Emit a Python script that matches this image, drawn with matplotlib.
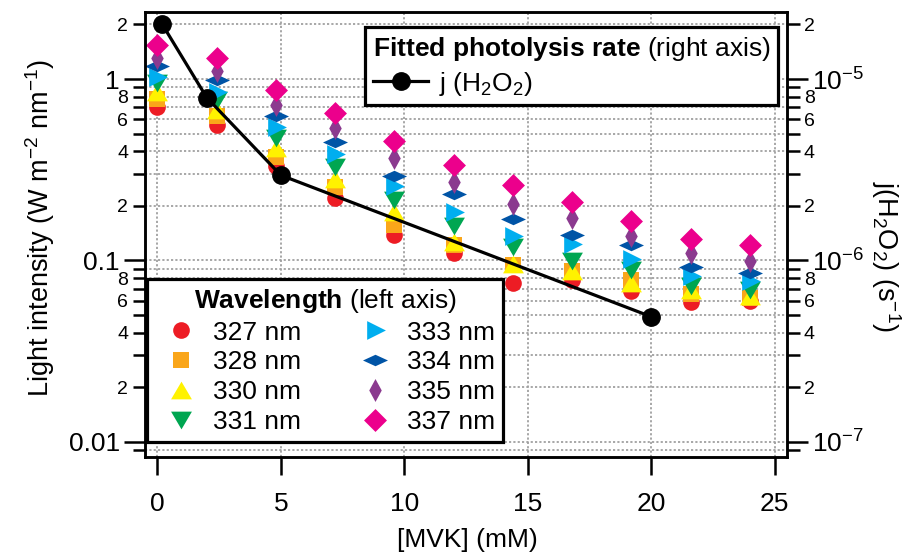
import numpy as np
import matplotlib
matplotlib.use('Agg')
import matplotlib.pyplot as plt
from matplotlib.ticker import LogLocator, FuncFormatter

plt.rcParams['font.family'] = 'Liberation Sans'
plt.rcParams['mathtext.fontset'] = 'custom'
plt.rcParams['mathtext.rm'] = 'Liberation Sans'
plt.rcParams['mathtext.bf'] = 'Liberation Sans:bold'
plt.rcParams['mathtext.it'] = 'Liberation Sans:italic'

# datos
mvk = [0, 2.4, 4.8, 7.2, 9.6, 12, 14.4, 16.8, 19.2, 21.6, 24]
wl_labels = ['327 nm', '328 nm', '330 nm', '331 nm', '333 nm', '334 nm', '335 nm', '337 nm']
int_327 = [0.70, 0.558, 0.333, 0.222, 0.138, 0.110, 0.075, 0.078, 0.068, 0.059, 0.060]
int_328 = [0.773, 0.625, 0.373, 0.255, 0.157, 0.122, 0.095, 0.087, 0.078, 0.065, 0.062]
int_330 = [0.85, 0.675, 0.418, 0.281, 0.184, 0.126, 0.096, 0.087, 0.0755, 0.069, 0.064]
int_331 = [0.947, 0.766, 0.471, 0.329, 0.216, 0.154, 0.119, 0.0987, 0.0887, 0.0725, 0.0687]
int_333 = [1.03, 0.85, 0.546, 0.385, 0.258, 0.184, 0.137, 0.124, 0.102, 0.0822, 0.0775]
int_334 = [1.18, 0.99, 0.628, 0.452, 0.293, 0.232, 0.169, 0.138, 0.121, 0.0925, 0.085]
int_335 = [1.30, 1.10, 0.719, 0.539, 0.366, 0.272, 0.204, 0.171, 0.137, 0.110, 0.0987]
int_337 = [1.54, 1.30, 0.87, 0.647, 0.456, 0.336, 0.26, 0.211, 0.164, 0.131, 0.122]

j_mvk = [0.2, 2, 5, 20]
j_h2o2 = [2.0e-5, 7.9e-6, 2.95e-6, 4.9e-7]

series = [int_327, int_328, int_330, int_331, int_333, int_334, int_335, int_337]
colors = ['#ED1C24', '#FAA61A', '#FFF200', '#00A651', '#00AEEF', '#0054A6', '#8B3A8F', '#EC008C']

# marcadores (vertices en px aprox.)
m_up = [(-10, -8.5), (10, -8.5), (0, 8.5)]
m_down = [(-10, 8.5), (10, 8.5), (0, -8.5)]
m_right = [(-8, -9), (-8, 9), (10, 0)]
m_flat = [(-12, 0), (0, 5.5), (12, 0), (0, -5.5)]
m_thin = [(0, 11), (6, 0), (0, -11), (-6, 0)]
m_diam = [(0, 11), (11, 0), (0, -11), (-11, 0)]
markers = ['o', 's', m_up, m_down, m_right, m_flat, m_thin, m_diam]
msizes = [12, 11.2, 15, 15, 15, 18, 16.5, 16.5]

fig = plt.figure(figsize=(9.12, 5.52), dpi=100)
ax = fig.add_axes([145 / 912, 1 - 457 / 552, 642 / 912, 445 / 552])
ax2 = ax.twinx()

handles = []
for vals, c, m, ms, lab in zip(series, colors, markers, msizes, wl_labels):
    h, = ax.plot(mvk, vals, linestyle='none', marker=m, ms=ms, color=c,
                 markeredgewidth=0, label=lab)
    handles.append(h)

jl, = ax2.plot(j_mvk, j_h2o2, color='black', lw=2.3, marker='o', ms=12.5,
               label=r'j (H$_2$O$_2$)')

ylo, yhi = 0.00826, 2.34
ax.set_yscale('log')
ax.set_ylim(ylo, yhi)
ax2.set_yscale('log')
ax2.set_ylim(ylo * 1e-5, yhi * 1e-5)
ax.set_xlim(-0.5, 25.5)
ax.set_xticks([0, 5, 10, 15, 20, 25])


def minor_lab(v, pos):
    e = np.floor(np.log10(v) + 1e-9)
    mant = int(round(v / 10 ** e))
    return str(mant) if mant in (2, 4, 6, 8) else ''


def left_major(v, pos):
    return {0.01: '0.01', 0.1: '0.1', 1.0: '1'}.get(round(v, 4), '')


def right_major(v, pos):
    return r'$10^{%d}$' % int(round(np.log10(v)))


for a in (ax, ax2):
    a.yaxis.set_major_locator(LogLocator(base=10))
    a.yaxis.set_minor_locator(LogLocator(base=10, subs=np.arange(2, 10)))
    a.yaxis.set_minor_formatter(FuncFormatter(minor_lab))
ax.yaxis.set_major_formatter(FuncFormatter(left_major))
ax2.yaxis.set_major_formatter(FuncFormatter(right_major))

for a in (ax, ax2):
    a.tick_params(axis='y', which='major', labelsize=19, length=15, width=1.8, pad=3)
    a.tick_params(axis='y', which='minor', labelsize=14, length=9, width=1.8, pad=3)
ax.tick_params(axis='x', which='major', labelsize=19, length=13, width=1.8, pad=12)

for a in (ax, ax2):
    for s in a.spines.values():
        s.set_linewidth(1.8)

ax.set_axisbelow(True)
ax.grid(True, which='both', axis='y', color='#a0a0a0', lw=1.3, linestyle=(0, (1.2, 1.2)))
ax.grid(True, which='major', axis='x', color='#a0a0a0', lw=1.3, linestyle=(0, (1.2, 1.2)))

fig.text(40 / 912, 1 - 228 / 552, r'Light intensity (W m$^{-2}$ nm$^{-1}$)', rotation=90,
         ha='center', va='center', fontsize=19.5)
fig.text(886 / 912, 1 - 256 / 552, r'j(H$_2$O$_2$) (s$^{-1}$)', rotation=270,
         ha='center', va='center', fontsize=19.5)
fig.text(467 / 912, 1 - 540 / 552, '[MVK] (mM)', ha='center', va='center', fontsize=19)

leg1 = ax.legend(handles=handles, ncol=2, loc='lower left',
                 bbox_to_anchor=(147 / 912, 1 - 442 / 552), bbox_transform=fig.transFigure,
                 borderaxespad=0, fontsize=19, title=r'$\bf{Wavelength}$ (left axis)',
                 title_fontsize=19, frameon=True, fancybox=False, framealpha=1,
                 edgecolor='black', handlelength=2.0, handletextpad=0.2,
                 columnspacing=1.8, labelspacing=0.22, borderpad=0.3)
leg1.get_frame().set_linewidth(2.3)

leg2 = ax2.legend(handles=[jl], loc='upper left',
                  bbox_to_anchor=(365 / 912, 1 - 27 / 552), bbox_transform=fig.transFigure,
                  borderaxespad=0, fontsize=19,
                  title=r'$\bf{Fitted\ photolysis\ rate}$ (right axis)',
                  title_fontsize=19, frameon=True, fancybox=False, framealpha=1,
                  edgecolor='black', handlelength=2.1, handletextpad=0.4,
                  labelspacing=0.25, borderpad=0.3, alignment='left')
leg2.get_frame().set_linewidth(2.3)

fig.savefig('out.png', dpi=100)
